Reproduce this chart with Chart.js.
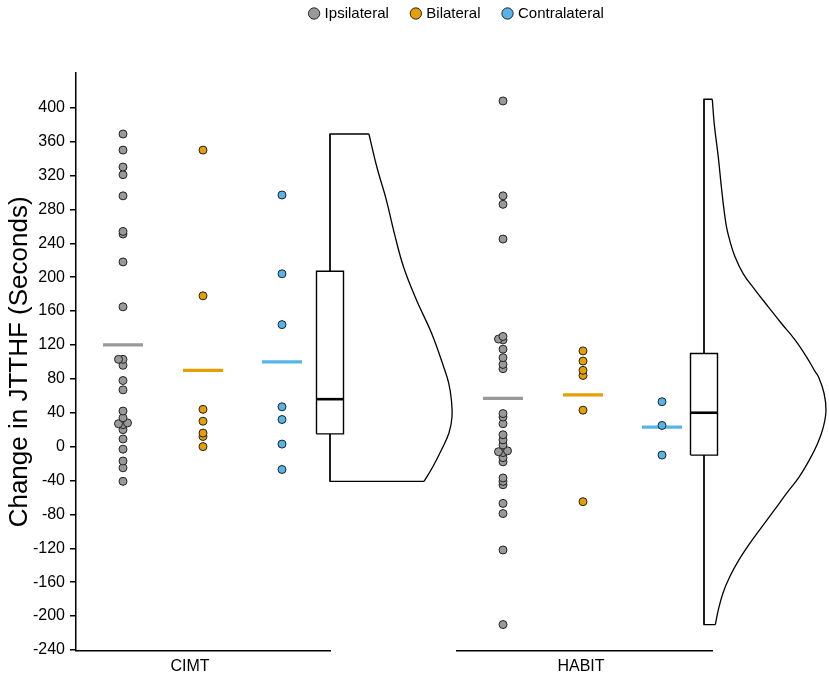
<!DOCTYPE html>
<html>
<head>
<meta charset="utf-8">
<script src="https://cdn.jsdelivr.net/npm/chart.js@4.4.1/dist/chart.umd.min.js"></script>
<style>
  html, body { margin: 0; padding: 0; background: #ffffff; }
  #c { display: block; }
</style>
</head>
<body>
<canvas id="c" width="829" height="678"></canvas>
<script>
// ---------------- DATA ----------------
const GROUPS = ['CIMT', 'HABIT'];
const SERIES = ['Ipsilateral', 'Bilateral', 'Contralateral'];

const CIMT_IPSILATERAL = [369, 350, 330, 321, 296, 254, 251, 218, 165, 103, 103, 96, 78, 67, 42, 34, 28, 27, 26, 20, 9, -3, -17, -25, -41];
const CIMT_BILATERAL = [350, 178, 44, 30, 16, 12, 0];
const CIMT_CONTRALATERAL = [297, 204, 144, 47, 32, 3, -27];

const HABIT_IPSILATERAL = [408, 296, 286, 245, 130, 127, 126, 115, 105, 97, 92, 39, 35, 27, 14, 8, 2, -5, -6, -7, -13, -18, -37, -41, -45, -67, -79, -122, -210];
const HABIT_BILATERAL = [113, 101, 90, 84, 43, -65];
const HABIT_CONTRALATERAL = [53, 25, -10];

const MEANS_CIMT = [120, 90, 100];
const MEANS_HABIT = [57, 61, 23];

// box stats: min, q1, median, q3, max
const BOX_CIMT = [-41, 15, 56, 207, 369];
const BOX_HABIT = [-210, -10, 40, 110, 410];

// half-violin densities (relative, max = 1) at values
const VIOLIN_CIMT_VALUES = [369, 330, 291, 252, 212, 173, 134, 94, 75, 55, 35, 16, -4, -24, -41];
const VIOLIN_CIMT_DENSITY = [0.319, 0.384, 0.462, 0.527, 0.603, 0.709, 0.832, 0.932, 0.973, 0.995, 1.0, 0.975, 0.913, 0.842, 0.771];
const VIOLIN_HABIT_VALUES = [410, 381, 342, 303, 263, 244, 224, 204, 185, 165, 145, 126, 106, 90, 82, 63, 43, 23, 4, -16, -36, -55, -75, -95, -114, -134, -154, -173, -193, -210];
const VIOLIN_HABIT_DENSITY = [0.068, 0.084, 0.117, 0.145, 0.180, 0.210, 0.254, 0.322, 0.418, 0.527, 0.637, 0.746, 0.84, 0.905, 0.94, 0.984, 1.0, 0.978, 0.932, 0.863, 0.779, 0.678, 0.576, 0.473, 0.377, 0.285, 0.210, 0.155, 0.117, 0.093];

const Y_TICKS = [-240, -200, -160, -120, -80, -40, 0, 40, 80, 120, 160, 200, 240, 280, 320, 360, 400];
const Y_MIN = -241;
const Y_MAX = 441;

// ---------------- LAYOUT / STYLE ----------------
const FONT = "'Liberation Sans', Arial, Helvetica, sans-serif";
const COLORS = ['#999999', '#E69F00', '#56B4E9'];
const X_MAX = 753;                 // x units == pixels from plot left
const PANEL_LEFT = [0, 380];
const PANEL_WIDTH = [255, 257];
const SERIES_X = [47, 127, 206];
const LABEL_X = [114, 505];
const WHISKER_X = [254, 248];
const BOX_HALF = 13.5;
const MEAN_HALF = 20;
const VIOLIN_WIDTH = 122;
const PX_PER_UNIT = 577.8 / (Y_MAX - Y_MIN);
const SWARM_STEP = 4.5;
const SWARM_MIN = 2;
const LEGEND_DX = 43;
const LEGEND_DY = -42;

Chart.defaults.font.family = FONT;

const POINTS = [
  [CIMT_IPSILATERAL, CIMT_BILATERAL, CIMT_CONTRALATERAL],
  [HABIT_IPSILATERAL, HABIT_BILATERAL, HABIT_CONTRALATERAL]
];
const MEANS = [MEANS_CIMT, MEANS_HABIT];
const BOXES = [BOX_CIMT, BOX_HABIT];
const VIOLINS = [
  [VIOLIN_CIMT_VALUES, VIOLIN_CIMT_DENSITY],
  [VIOLIN_HABIT_VALUES, VIOLIN_HABIT_DENSITY]
];

function swarm(values, cx) {
  const placed = [];
  values.slice().sort((a, b) => a - b).forEach(v => {
    for (let k = 0; k < 30; k++) {
      const off = k === 0 ? 0 : (k % 2 ? -1 : 1) * Math.ceil(k / 2) * SWARM_STEP;
      const ok = placed.every(p => Math.hypot(off - p.off, (v - p.v) * PX_PER_UNIT) >= SWARM_MIN);
      if (ok) { placed.push({ v, off }); break; }
    }
  });
  return placed.map(p => ({ x: cx + p.off, y: p.v }));
}

const lineBase = { showLine: true, pointRadius: 0, pointHoverRadius: 0, clip: false, tension: 0, fill: false };
const datasets = [];

// points (legend series)
SERIES.forEach((name, s) => {
  const pts = [];
  GROUPS.forEach((g, gi) => pts.push(...swarm(POINTS[gi][s], PANEL_LEFT[gi] + SERIES_X[s])));
  datasets.push({
    label: name, isLegend: true, data: pts, showLine: false,
    backgroundColor: COLORS[s], borderColor: '#222222', borderWidth: 1,
    pointRadius: 4, pointHoverRadius: 4, pointStyle: 'circle', clip: false, order: 0
  });
});

GROUPS.forEach((g, gi) => {
  const L = PANEL_LEFT[gi];
  // mean lines
  SERIES.forEach((name, s) => {
    const cx = L + SERIES_X[s];
    datasets.push(Object.assign({}, lineBase, {
      label: g + ' mean ' + name,
      data: [{ x: cx - MEAN_HALF, y: MEANS[gi][s] }, { x: cx + MEAN_HALF, y: MEANS[gi][s] }],
      borderColor: COLORS[s], borderWidth: 3.2, order: 1
    }));
  });
  const [mn, q1, med, q3, mx] = BOXES[gi];
  const W = L + WHISKER_X[gi];
  // median
  datasets.push(Object.assign({}, lineBase, {
    label: g + ' median',
    data: [{ x: W - BOX_HALF, y: med }, { x: W + BOX_HALF, y: med }],
    borderColor: '#000000', borderWidth: 2.6, order: 2
  }));
  // box
  datasets.push(Object.assign({}, lineBase, {
    label: g + ' box',
    data: [{ x: W - BOX_HALF, y: q1 }, { x: W + BOX_HALF, y: q1 }, { x: W + BOX_HALF, y: q3 },
           { x: W - BOX_HALF, y: q3 }, { x: W - BOX_HALF, y: q1 }],
    borderColor: '#000000', borderWidth: 1.4, fill: 'shape', backgroundColor: '#ffffff', order: 3
  }));
  // whiskers
  datasets.push(Object.assign({}, lineBase, {
    label: g + ' whisker hi',
    data: [{ x: W, y: q3 }, { x: W, y: mx }],
    borderColor: '#000000', borderWidth: 1.3, order: 3.5
  }));
  datasets.push(Object.assign({}, lineBase, {
    label: g + ' whisker lo',
    data: [{ x: W, y: q1 }, { x: W, y: mn }],
    borderColor: '#000000', borderWidth: 1.3, order: 3.5
  }));
  // half violin
  const [vv, vd] = VIOLINS[gi];
  datasets.push(Object.assign({}, lineBase, {
    label: g + ' violin',
    data: vv.map((v, i) => ({ x: W + vd[i] * VIOLIN_WIDTH, y: v })),
    borderColor: '#000000', borderWidth: 1.3, tension: 0.4, order: 4
  }));
  const last = vv.length - 1;
  datasets.push(Object.assign({}, lineBase, {
    label: g + ' violin edge',
    data: [{ x: W + vd[0] * VIOLIN_WIDTH, y: vv[0] }, { x: W, y: vv[0] }, { x: W, y: vv[last] },
           { x: W + vd[last] * VIOLIN_WIDTH, y: vv[last] }],
    borderColor: '#000000', borderWidth: 1.3, order: 4
  }));
  // x axis segment for this panel
  datasets.push(Object.assign({}, lineBase, {
    label: g + ' axis',
    data: [{ x: L, y: Y_MIN }, { x: L + PANEL_WIDTH[gi], y: Y_MIN }],
    borderColor: '#000000', borderWidth: 1.5, order: 5
  }));
});

const legendShift = {
  id: 'legendShift',
  afterLayout(chart) {
    const l = chart.legend;
    if (!l) return;
    l.left += LEGEND_DX; l.right += LEGEND_DX;
    l.top += LEGEND_DY; l.bottom += LEGEND_DY;
  }
};

new Chart(document.getElementById('c'), {
  type: 'scatter',
  data: { datasets },
  plugins: [legendShift],
  options: {
    responsive: false,
    animation: false,
    events: [],
    layout: { autoPadding: false, padding: { top: 24, left: 0, right: 0, bottom: 0 } },
    plugins: {
      tooltip: { enabled: false },
      legend: {
        display: true,
        position: 'top',
        labels: {
          usePointStyle: true, boxWidth: 6, boxHeight: 8, padding: 24, color: '#000000',
          font: { size: 15, family: FONT },
          filter: (item, data) => !!data.datasets[item.datasetIndex].isLegend
        }
      }
    },
    scales: {
      x: {
        type: 'linear', min: 0, max: X_MAX,
        grid: { display: false, drawTicks: false },
        border: { display: false },
        afterBuildTicks: s => { s.ticks = LABEL_X.map(v => ({ value: v })); },
        afterFit: s => { s.height = 678 - 650.8; s.paddingLeft = 0; s.paddingRight = 0; },
        ticks: {
          autoSkip: false, maxRotation: 0, padding: 6, color: '#000000',
          font: { size: 16, family: FONT },
          callback: (v, i) => GROUPS[i]
        }
      },
      y: {
        type: 'linear', min: Y_MIN, max: Y_MAX,
        afterBuildTicks: s => { s.ticks = Y_TICKS.map(v => ({ value: v })); },
        afterFit: s => { s.width = 76; },
        grid: { drawOnChartArea: false, drawTicks: true, tickLength: 6, color: '#000000', lineWidth: 1.5 },
        border: { display: true, color: '#000000', width: 1.5 },
        ticks: { padding: 5, color: '#000000', font: { size: 16, family: FONT } },
        title: {
          display: true, text: 'Change in JTTHF (Seconds)', color: '#000000',
          font: { size: 26, family: FONT }, padding: { top: 4, bottom: 0 }
        }
      }
    }
  }
});
</script>
</body>
</html>
